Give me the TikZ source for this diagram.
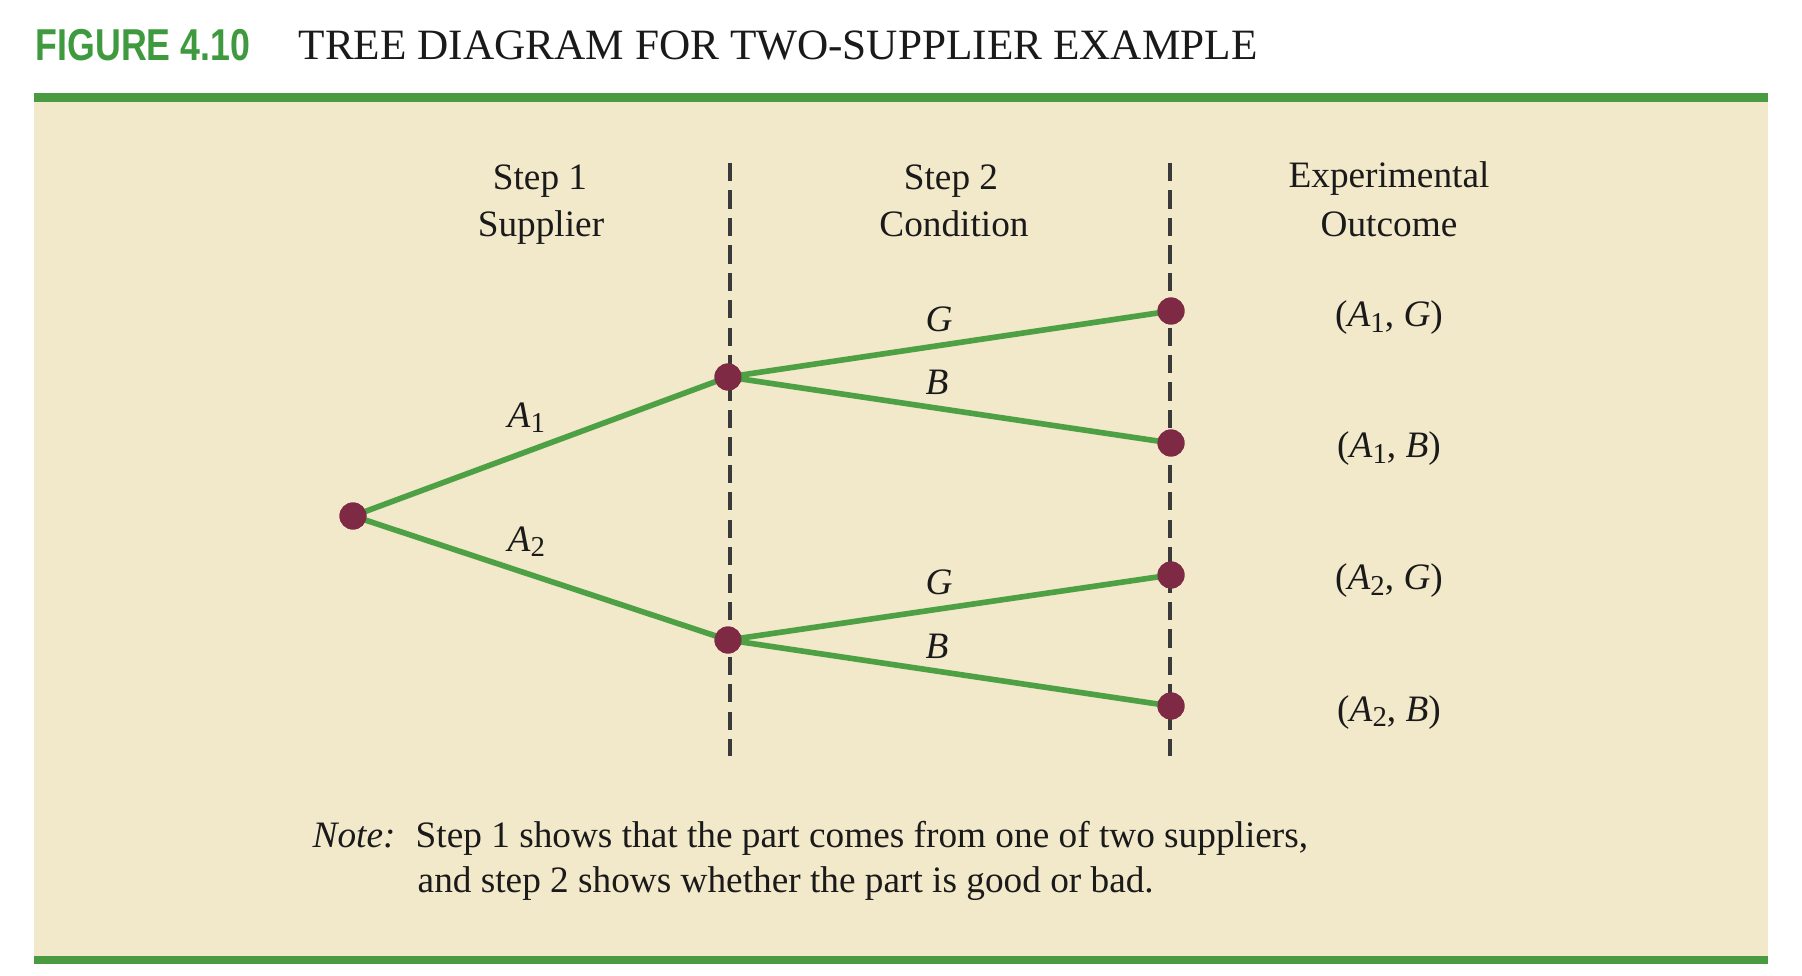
\documentclass[tikz,border=0pt]{standalone}
\usepackage{fontspec}
\setmainfont{Liberation Serif}
\newfontfamily\figfont{Liberation Sans}
\usetikzlibrary{positioning}
\definecolor{beige}{HTML}{F2E8CA}
\definecolor{barGreen}{HTML}{4A9A42}
\definecolor{lineGreen}{HTML}{4DA043}
\definecolor{figGreen}{HTML}{3F9A3F}
\definecolor{maroon}{HTML}{7E2A45}
\definecolor{dashGray}{HTML}{3A3A3A}
\definecolor{ink}{HTML}{1A1A1A}
\newcommand{\bodysize}{\fontsize{10.6}{14}\selectfont}
\newcommand{\sbs}[1]{\raisebox{-0.35ex}{\fontsize{8.2}{9}\selectfont #1}}
\tikzset{
  dot/.style={circle, fill=maroon, draw=none, inner sep=0pt, minimum size=0.27cm},
  branch/.style={draw=lineGreen, line width=1.6pt},
  divider/.style={draw=dashGray, line width=1pt, dash pattern=on 5.2pt off 2.6pt},
  txt/.style={anchor=base, inner sep=0pt, text=ink, font=\bodysize},
  txtw/.style={anchor=base west, inner sep=0pt, text=ink, font=\bodysize},
}
\begin{document}
\begin{tikzpicture}[x=0.01cm, y=-0.01cm]
\useasboundingbox (0,0) rectangle (1802,976);
\fill[white] (0,0) rectangle (1802,976);
% panel
\fill[beige] (34,102) rectangle (1768,956);
\fill[barGreen] (34,93) rectangle (1768,102);
\fill[barGreen] (34,956) rectangle (1768,964);
% title
\node[anchor=base west, inner sep=0pt, text=figGreen] (figno) at (35,61)
  {\scalebox{0.8}[1]{\figfont\bfseries\fontsize{12.7}{14}\selectfont FIGURE 4.10}};
\node[anchor=base west, inner sep=0pt, text=ink, font=\fontsize{12.3}{14}\selectfont] (title) at (298,60)
  {TREE DIAGRAM FOR TWO-SUPPLIER EXAMPLE};
% column headings
\node[txt] (h1a) at (540,190) {Step 1};
\node[txt] (h1b) at (541,237) {Supplier};
\node[txt] (h2a) at (951,190) {Step 2};
\node[txt] (h2b) at (954,237) {Condition};
\node[txt] (h3a) at (1389,188) {Experimental};
\node[txt] (h3b) at (1389,237) {Outcome};
% dashed dividers
\coordinate (d1t) at (730,163);
\coordinate (d1b) at (730,756);
\coordinate (d2t) at (1170,163);
\coordinate (d2b) at (1170,756);
\draw[divider] (d1t) -- (d1b);
\draw[divider] (d2t) -- (d2b);
% tree nodes
\node[dot] (root) at (353,516) {};
\node[dot] (m1) at (728,377) {};
\node[dot] (m2) at (728,640) {};
\node[dot] (e1) at (1171,311) {};
\node[dot] (e2) at (1171,443) {};
\node[dot] (e3) at (1171,575) {};
\node[dot] (e4) at (1171,706) {};
% branches
\draw[branch] (root.center) -- (m1.center);
\draw[branch] (root.center) -- (m2.center);
\draw[branch] (m1.center) -- (e1.center);
\draw[branch] (m1.center) -- (e2.center);
\draw[branch] (m2.center) -- (e3.center);
\draw[branch] (m2.center) -- (e4.center);
% redraw dots on top
\foreach \n in {root,m1,m2,e1,e2,e3,e4} {\fill[maroon] (\n.center) circle (13.5);}
% branch labels
\node[txtw] (la1) at (507,427) {\textit{A}\sbs{1}};
\node[txtw] (la2) at (507,551) {\textit{A}\sbs{2}};
\node[txt] (lg1) at (939,331) {\textit{G}};
\node[txt] (lb1) at (937,395) {\textit{B}};
\node[txt] (lg2) at (939,594) {\textit{G}};
\node[txt] (lb2) at (937,658) {\textit{B}};
% outcomes
\node[txt] (o1) at (1389,327) {(\textit{A}\sbs{1}, \textit{G})};
\node[txt] (o2) at (1389,458) {(\textit{A}\sbs{1}, \textit{B})};
\node[txt] (o3) at (1389,590) {(\textit{A}\sbs{2}, \textit{G})};
\node[txt] (o4) at (1389,721) {(\textit{A}\sbs{2}, \textit{B})};
% note
\node[txtw] (note) at (312,847) {\textit{Note:}};
\node[txtw] (n1) at (415,847) {Step 1 shows that the part comes from one of two suppliers,};
\node[txtw] (n2) at (417,892) {and step 2 shows whether the part is good or bad.};
\end{tikzpicture}
\end{document}
